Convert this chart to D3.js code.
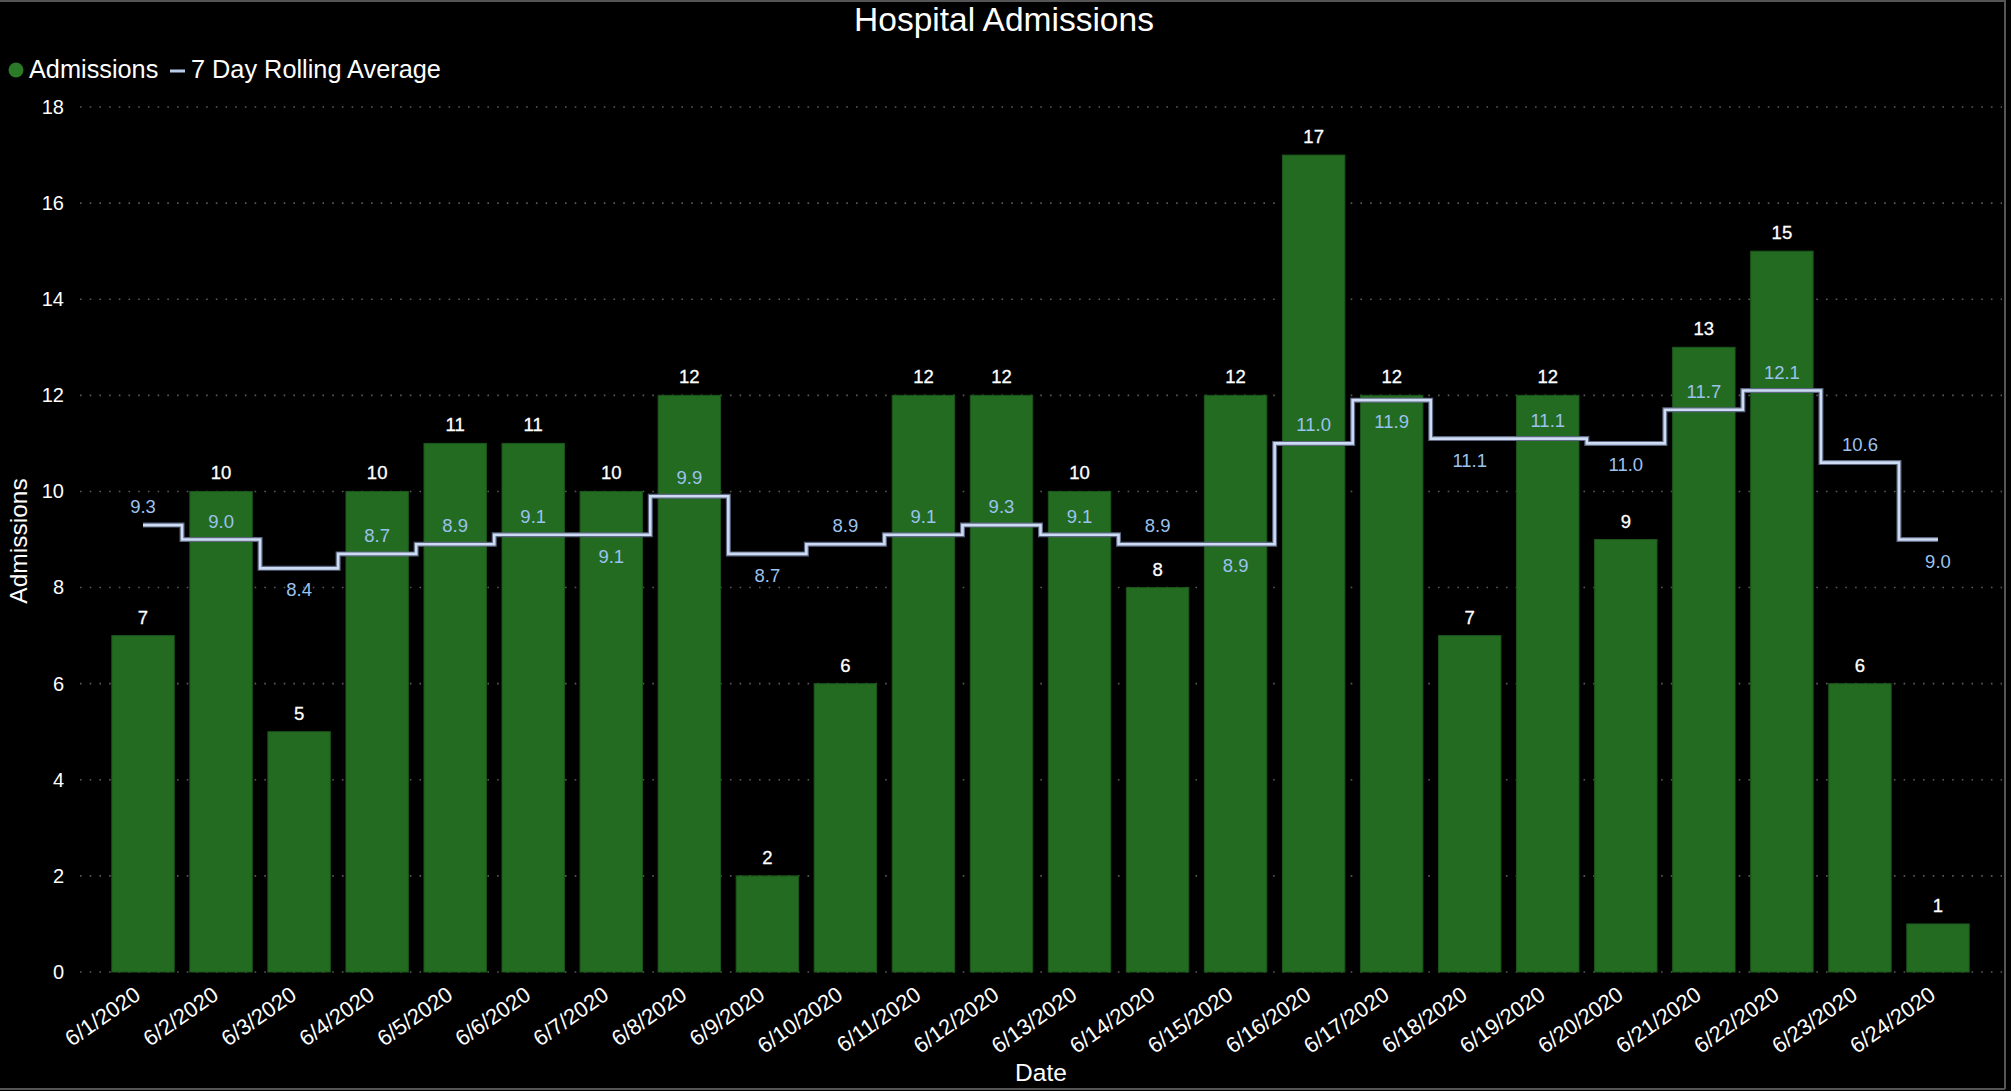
<!DOCTYPE html>
<html>
<head>
<meta charset="utf-8">
<script src="https://cdn.jsdelivr.net/npm/d3@7"></script>
<style>
  html, body { margin: 0; padding: 0; background: #000; }
  svg { display: block; }
  text { font-family: "Liberation Sans", Arial, sans-serif; }
</style>
</head>
<body>
<script>
// ---- data ----
const dates = ["6/1/2020","6/2/2020","6/3/2020","6/4/2020","6/5/2020","6/6/2020","6/7/2020","6/8/2020",
  "6/9/2020","6/10/2020","6/11/2020","6/12/2020","6/13/2020","6/14/2020","6/15/2020","6/16/2020",
  "6/17/2020","6/18/2020","6/19/2020","6/20/2020","6/21/2020","6/22/2020","6/23/2020","6/24/2020"];
const admissions = [7,10,5,10,11,11,10,12,2,6,12,12,10,8,12,17,12,7,12,9,13,15,6,1];
const rollingAvg = [9.3,9.0,8.4,8.7,8.9,9.1,9.1,9.9,8.7,8.9,9.1,9.3,9.1,8.9,8.9,11.0,11.9,11.1,11.1,11.0,11.7,12.1,10.6,9.0];
const avgLabelSide = ["a","a","b","a","a","a","b","a","b","a","a","a","a","a","b","a","b","b","a","b","a","a","a","b"];
const yTicks = [0,2,4,6,8,10,12,14,16,18];
const titleText = "Hospital Admissions";
const seriesNames = ["Admissions","7 Day Rolling Average"];

// ---- layout ----
const W = 2011, H = 1091;
const svg = d3.select("body").append("svg").attr("width", W).attr("height", H);

svg.append("rect").attr("x",0).attr("y",0).attr("width",W).attr("height",H).attr("fill","#000");

const x = d3.scaleBand().domain(dates).range([104, 1977]).paddingInner(0.2).paddingOuter(0.1);
const y = d3.scaleLinear().domain([0, 18]).range([972, 107]);

// gridlines
svg.append("g").selectAll("line").data(yTicks).join("line")
  .attr("x1", 80).attr("x2", 2002)
  .attr("y1", d => y(d)).attr("y2", d => y(d))
  .attr("stroke", "#5a5a5a").attr("stroke-width", 1.6)
  .attr("stroke-dasharray", "1.6,8.1");

// y axis
const yAxis = svg.append("g").attr("transform", "translate(72,0)")
  .call(d3.axisLeft(y).tickValues(yTicks).tickSize(0).tickPadding(8));
yAxis.select(".domain").remove();
yAxis.selectAll("text").attr("fill", "#fff").style("font-size", "20px")
  .style("font-family", "'Liberation Sans', Arial, sans-serif");

// bars
svg.append("g").selectAll("rect").data(admissions).join("rect")
  .attr("x", (d,i) => x(dates[i]))
  .attr("y", d => y(d))
  .attr("width", x.bandwidth())
  .attr("height", d => y(0) - y(d))
  .attr("fill", "#236b21")
  .attr("stroke", "#1c561b").attr("stroke-width", 1);

// bar labels
svg.append("g").selectAll("text").data(admissions).join("text")
  .attr("x", (d,i) => x(dates[i]) + x.bandwidth()/2)
  .attr("y", d => y(d) - 12)
  .attr("text-anchor", "middle")
  .attr("fill", "#fff").style("font-size", "18.5px")
  .attr("stroke", "#fff").attr("stroke-width", 0.3)
  .text(d => d);

// x axis
const xAxis = svg.append("g").attr("transform", `translate(0,${y(0)})`)
  .call(d3.axisBottom(x).tickSize(0));
xAxis.select(".domain").remove();
xAxis.selectAll("text")
  .attr("y", 0).attr("dy", 0)
  .attr("transform", "translate(-1,26) rotate(-35)")
  .style("text-anchor", "end")
  .attr("fill", "#fff").style("font-size", "22px")
  .style("font-family", "'Liberation Sans', Arial, sans-serif");

// rolling average step line
const line = d3.line()
  .x((d,i) => x(dates[i]) + x.bandwidth()/2)
  .y(d => y(d))
  .curve(d3.curveStep);
svg.append("path").datum(rollingAvg).attr("d", line)
  .attr("fill", "none").attr("stroke", "#5d6880").attr("stroke-width", 5);
svg.append("path").datum(rollingAvg).attr("d", line)
  .attr("fill", "none").attr("stroke", "#cddcf4").attr("stroke-width", 2.6);

// rolling average labels
svg.append("g").selectAll("text").data(rollingAvg).join("text")
  .attr("x", (d,i) => x(dates[i]) + x.bandwidth()/2)
  .attr("y", (d,i) => avgLabelSide[i] === "a" ? y(d) - 12 : y(d) + 28)
  .attr("text-anchor", "middle")
  .attr("fill", "#9cc2ee").style("font-size", "18.5px")
  .text(d => d.toFixed(1));

// title
svg.append("text").attr("x", 1004).attr("y", 31).attr("text-anchor", "middle")
  .attr("fill", "#fff").style("font-size", "33.5px").text(titleText);

// legend
svg.append("circle").attr("cx", 16).attr("cy", 70).attr("r", 7.5).attr("fill", "#2a7a27");
svg.append("text").attr("x", 29).attr("y", 78).attr("fill", "#fff").style("font-size", "25.3px").text(seriesNames[0]);
svg.append("line").attr("x1", 170).attr("x2", 185).attr("y1", 71).attr("y2", 71)
  .attr("stroke", "#b8cdea").attr("stroke-width", 3);
svg.append("text").attr("x", 191).attr("y", 78).attr("fill", "#fff").style("font-size", "25.3px").text(seriesNames[1]);

// axis titles
svg.append("text").attr("x", 1041).attr("y", 1081).attr("text-anchor", "middle")
  .attr("fill", "#fff").style("font-size", "24.5px").text("Date");
svg.append("text").attr("transform", "translate(27,541) rotate(-90)").attr("text-anchor", "middle")
  .attr("fill", "#fff").style("font-size", "24.5px").text("Admissions");

// frame
svg.append("line").attr("x1",0).attr("x2",2005).attr("y1",1).attr("y2",1).attr("stroke","#555").attr("stroke-width",2);
svg.append("line").attr("x1",2005).attr("x2",2005).attr("y1",0).attr("y2",1089).attr("stroke","#555").attr("stroke-width",2);
svg.append("line").attr("x1",0).attr("x2",2005).attr("y1",1089).attr("y2",1089).attr("stroke","#555").attr("stroke-width",2);
</script>
</body>
</html>
